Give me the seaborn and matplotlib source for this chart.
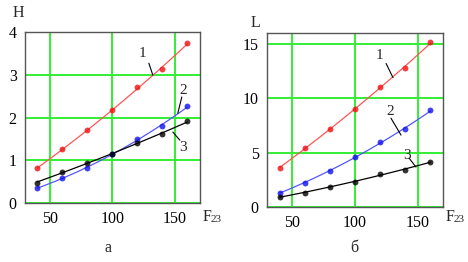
import numpy as np
import pandas as pd
import matplotlib
matplotlib.use("Agg")
import matplotlib.pyplot as plt
import seaborn as sns

# -----------------------------
# Data
# -----------------------------
f23 = [40, 60, 80, 100, 120, 140, 160]

h_1 = [0.82, 1.26, 1.70, 2.18, 2.71, 3.13, 3.74]
h_2 = [0.35, 0.58, 0.83, 1.15, 1.50, 1.80, 2.26]
h_3 = [0.48, 0.73, 0.94, 1.15, 1.40, 1.62, 1.91]

l_1 = [3.58, 5.42, 7.13, 9.03, 11.08, 12.76, 15.15]
l_2 = [1.29, 2.23, 3.34, 4.56, 6.00, 7.13, 8.88]
l_3 = [0.92, 1.32, 1.84, 2.33, 3.03, 3.43, 4.13]

curve_names = ["1", "2", "3"]
line_colors = ["#ff5555", "#5555ff", "#000000"]
dot_colors = ["#ee1111", "#1111ee", "#000000"]

h_ticks = [0, 1, 2, 3, 4]
l_ticks = [0, 5, 10, 15]
x_ticks = [50, 100, 150]

# -----------------------------
# Style
# -----------------------------
sns.set_style("white")
plt.rcParams["font.family"] = ["Liberation Serif", "DejaVu Serif"]

GRID = "#33ee33"

fig = plt.figure(figsize=(4.68, 2.62), dpi=100)
ax_h = fig.add_axes([0.0534, 0.225, 0.3735, 0.653])
ax_l = fig.add_axes([0.5705, 0.210, 0.3761, 0.664])


def draw_panel(ax, series, yticks, ylim):
    for ys, lc, dc in zip(series, line_colors, dot_colors):
        sns.regplot(x=f23, y=ys, order=2, ci=None, ax=ax,
                    scatter_kws={"s": 18, "color": dc, "linewidths": 0, "zorder": 4},
                    line_kws={"color": lc, "lw": 0.9, "zorder": 3})
    ax.set_xlim(30, 170)
    ax.set_ylim(*ylim)
    ax.set_xticks(x_ticks)
    ax.set_yticks(yticks)
    ax.grid(True, color=GRID, lw=1.4, zorder=1)
    ax.set_axisbelow(True)
    ax.tick_params(length=0, labelsize=11.5, pad=6, colors="black")
    for s in ax.spines.values():
        s.set_color("#555555")
        s.set_linewidth(1.0)
    ax.set_xlabel("")
    ax.set_ylabel("")


draw_panel(ax_h, [h_1, h_2, h_3], h_ticks, (0, 4))
draw_panel(ax_l, [l_1, l_2, l_3], l_ticks, (0, 16))

# curve numbers with leader lines
h_labels = [((124.4, 3.50), (129.2, 3.27), (132.4, 2.99)),
            ((156.4, 2.64), (155.6, 2.48), (152.4, 2.10)),
            ((156.4, 1.31), (154.0, 1.47), (148.4, 1.66))]
l_labels = [((119.1, 13.96), (124.7, 13.2), (130.2, 11.9)),
            ((127.8, 8.80), (128.6, 8.17), (136.6, 6.61)),
            ((141.4, 4.78), (143.0, 4.50), (148.5, 3.67))]

for ax, labs in [(ax_h, h_labels), (ax_l, l_labels)]:
    for name, (txt, p0, p1) in zip(curve_names, labs):
        ax.text(txt[0], txt[1], name, fontsize=11, ha="center", va="center", zorder=6)
        ax.plot([p0[0], p1[0]], [p0[1], p1[1]], color="black", lw=0.8, zorder=5)

# axis names
fig.text(18 / 468, 1 - 13 / 262, "H", fontsize=11.5, ha="center", va="center")
fig.text(255 / 468, 1 - 23 / 262, "L", fontsize=11.5, ha="center", va="center")
for x0 in [203, 446]:
    fig.text(x0 / 468, 1 - 217 / 262, "F", fontsize=11.5, ha="left", va="center")
    fig.text((x0 + 8) / 468, 1 - 220 / 262, "23", fontsize=8, ha="left", va="center")

# panel captions
fig.text(108 / 468, 1 - 248 / 262, "а", fontsize=11.5, ha="center", va="center")
fig.text(354 / 468, 1 - 248 / 262, "б", fontsize=11.5, ha="center", va="center")

fig.savefig("out.png", dpi=100)
plt.close(fig)
